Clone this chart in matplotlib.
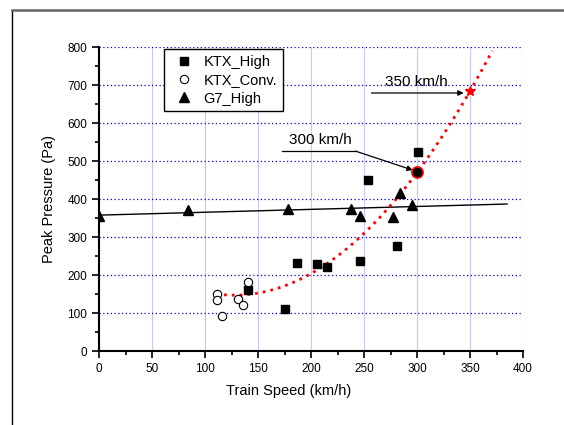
import numpy as np
import matplotlib
matplotlib.use("Agg")
import matplotlib.pyplot as plt
from matplotlib.lines import Line2D

plt.rcParams['font.family'] = ['Liberation Sans', 'DejaVu Sans']

# data
ktx_high_x = [141, 175, 187, 206, 215, 246, 254, 281, 301]
ktx_high_y = [160, 110, 231, 229, 222, 237, 450, 277, 525]
ktx_conv_x = [111, 111, 116, 131, 136, 141]
ktx_conv_y = [150, 134, 91, 138, 122, 181]
g7_x = [0, 84, 178, 238, 246, 277, 284, 295]
g7_y = [355, 371, 375, 373, 356, 352, 417, 383]

# points
trend_x = [120, 200, 250, 300, 350]
trend_y = [147, 206, 307, 470, 684]
trend_range = (118, 371)
g7_range = (0, 385)

pt300 = (300, 470)
pt350 = (350, 684)

fig = plt.figure(figsize=(5.64, 4.25), dpi=100)
ax = fig.add_axes([99/564, 1-351/425, (523-99)/564, (351-47)/425])

# outer frame
fig.add_artist(Line2D([12/564, 12/564], [0, 1-10/425], transform=fig.transFigure,
                      color='black', lw=1))
fig.add_artist(Line2D([12/564, 1], [1-10/425, 1-10/425], transform=fig.transFigure,
                      color='#666666', lw=1.8))

# grid
for gx in range(50, 401, 50):
    ax.axvline(gx, color='#c8c8ff', lw=0.8, zorder=0)
for gy in range(100, 801, 100):
    ax.axhline(gy, color='#0000dd', lw=0.9, ls=(0, (1, 2)), zorder=0)

# G7 linear fit
c1 = np.polyfit(g7_x, g7_y, 1)
xl = np.linspace(g7_range[0], g7_range[1], 50)
ax.plot(xl, np.polyval(c1, xl), color='black', lw=1, zorder=2)

# quadratic trend
c2 = np.polyfit(trend_x, trend_y, 2)
xq = np.linspace(trend_range[0], trend_range[1], 200)
ax.plot(xq, np.polyval(c2, xq), color='red', lw=2, ls=(0, (1, 1.8)), zorder=3)

ax.plot(ktx_high_x, ktx_high_y, 's', color='black', ms=5.5, label='KTX_High', zorder=4)
ax.plot(ktx_conv_x, ktx_conv_y, 'o', mfc='white', mec='black', mew=0.8, ms=6,
        label='KTX_Conv.', zorder=4)
ax.plot(g7_x, g7_y, '^', color='black', ms=6.5, label='G7_High', zorder=4)

ax.plot(*pt300, 'o', mfc='black', mec='red', mew=1.2, ms=8, zorder=5)
ax.plot(*pt350, '*', color='red', ms=7, zorder=5)

# annotations
ax.plot([173, 242], [526, 526], color='black', lw=0.9)
ax.annotate('', xy=(296, 476), xytext=(242, 526),
            arrowprops=dict(arrowstyle='-|>', color='black', lw=0.9,
                            mutation_scale=8, shrinkA=0, shrinkB=0))
ax.text(209, 537, '300 km/h', ha='center', va='bottom', fontsize=11)
ax.annotate('', xy=(344, 679), xytext=(257, 679),
            arrowprops=dict(arrowstyle='-|>', color='black', lw=0.9,
                            mutation_scale=8, shrinkA=0, shrinkB=0))
ax.text(299, 690, '350 km/h', ha='center', va='bottom', fontsize=11)

ax.set_xlim(0, 400)
ax.set_ylim(0, 800)
ax.set_xticks(range(0, 401, 50))
ax.set_yticks(range(0, 801, 100))
ax.set_xticks(range(25, 400, 50), minor=True)
ax.set_yticks(range(50, 800, 100), minor=True)
ax.tick_params(which='major', direction='out', length=5, width=1.2, labelsize=8.5)
ax.tick_params(which='minor', direction='out', length=3, width=1.2)
for s in ['top', 'right']:
    ax.spines[s].set_visible(False)
for s in ['left', 'bottom']:
    ax.spines[s].set_linewidth(1.5)

ax.set_xlabel('Train Speed (km/h)', fontsize=10.5, labelpad=8)
ax.xaxis.set_label_coords((289-99)/424, -33/304)
ax.set_ylabel('Peak Pressure (Pa)', fontsize=10.5, labelpad=8)

leg = ax.legend(loc='upper left', bbox_to_anchor=(65/424, 1 - 2/304), fontsize=10.5,
                fancybox=False, edgecolor='black', framealpha=1, borderaxespad=0,
                handletextpad=0.3, labelspacing=0.3, borderpad=0.4)
leg.get_frame().set_linewidth(1)

fig.savefig('out.png', dpi=100)
